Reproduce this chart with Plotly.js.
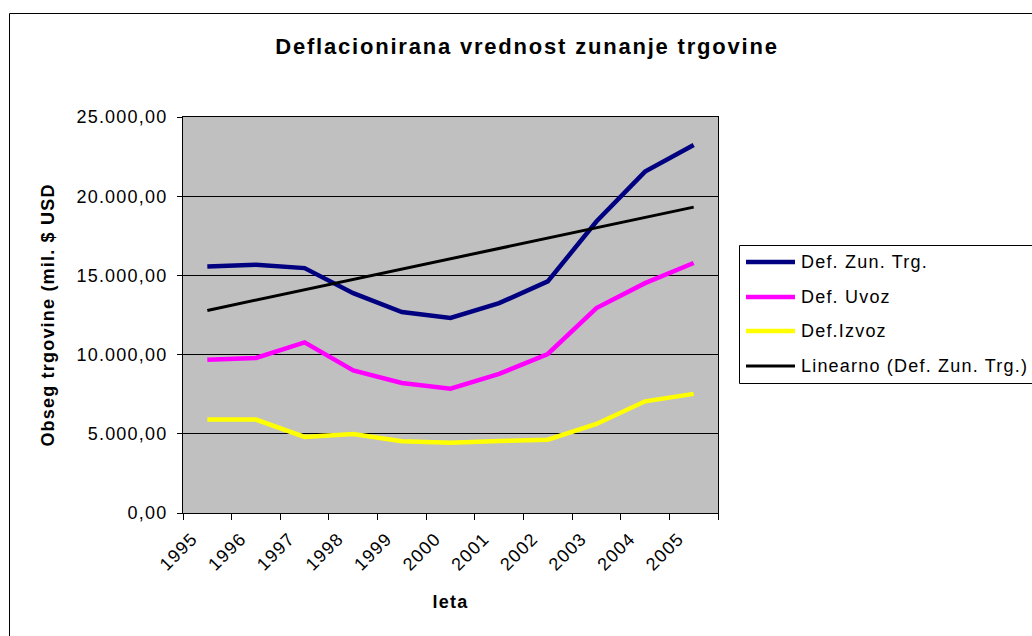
<!DOCTYPE html>
<html>
<head>
<meta charset="utf-8">
<script src="https://cdn.plot.ly/plotly-3.0.1.min.js"></script>
<style>
  html, body { margin: 0; padding: 0; background: #fff; }
  #chart { width: 1032px; height: 636px; }
  .main-svg text { letter-spacing: 1.2px; }
  .main-svg .gtitle { letter-spacing: 1.8px; }
</style>
</head>
<body>
<div id="chart"></div>
<script>
// ---- data ----
const years = ['1995','1996','1997','1998','1999','2000','2001','2002','2003','2004','2005'];
const defZunTrg = [15560, 15670, 15460, 13880, 12690, 12310, 13250, 14620, 18400, 21550, 23230];
const defUvoz   = [9680, 9790, 10770, 9000, 8210, 7850, 8780, 10040, 12940, 14510, 15780];
const defIzvoz  = [5900, 5900, 4800, 4990, 4530, 4430, 4550, 4630, 5620, 7050, 7520];
const trendYears  = ['1995', '2005'];
const trendValues = [12790, 19310];
const seriesNames = ['Def. Zun. Trg.', 'Def. Uvoz', 'Def.Izvoz', 'Linearno (Def. Zun. Trg.)'];
const seriesColors = ['#000080', '#FF00FF', '#FFFF00', '#000000'];

const FONT = 'Arial, "Liberation Sans", sans-serif';

// plot area in pixels (from the reference)
const W = 1032, H = 636;
const PL = 183, PR = 718, PT = 117, PB = 513;
const pw = PR - PL, ph = PB - PT;
const px = v => (v - PL) / pw;
const py = v => (PB - v) / ph;

const traces = [
  {x: years, y: defZunTrg, name: seriesNames[0],
   mode: 'lines', line: {color: seriesColors[0], width: 4.5}},
  {x: years, y: defUvoz, name: seriesNames[1],
   mode: 'lines', line: {color: seriesColors[1], width: 4.5}},
  {x: years, y: defIzvoz, name: seriesNames[2],
   mode: 'lines', line: {color: seriesColors[2], width: 4.5}},
  {x: trendYears, y: trendValues, name: seriesNames[3],
   mode: 'lines', line: {color: seriesColors[3], width: 3}}
];

// legend box drawn as shapes + annotations (Excel-style, runs past the right edge)
const legX0 = 739, legX1 = 1045, legY0 = 245, legY1 = 383;
const legRowY = [262, 297, 331, 366];
const legWidths = [4.5, 4.5, 4.5, 3];

const shapes = [
  {type: 'rect', xref: 'paper', yref: 'paper',
   x0: px(9.5), x1: px(1045), y0: py(650), y1: py(13.5),
   line: {color: '#000', width: 1}, fillcolor: 'rgba(0,0,0,0)', layer: 'below'},
  {type: 'rect', xref: 'paper', yref: 'paper',
   x0: px(legX0 + 0.5), x1: px(legX1), y0: py(legY1 + 0.5), y1: py(legY0 + 0.5),
   line: {color: '#000', width: 1}, fillcolor: '#ffffff', layer: 'above'}
];
const annotations = [];
seriesNames.forEach((nm, i) => {
  shapes.push({type: 'line', xref: 'paper', yref: 'paper',
    x0: px(746), x1: px(795), y0: py(legRowY[i]), y1: py(legRowY[i]),
    line: {color: seriesColors[i], width: legWidths[i]}, layer: 'above'});
  annotations.push({xref: 'paper', yref: 'paper', x: px(799), y: py(legRowY[i]),
    xanchor: 'left', yanchor: 'middle', align: 'left', showarrow: false, text: nm,
    font: {family: FONT, size: 18, color: '#000'}});
});

const layout = {
  width: W, height: H,
  margin: {l: PL, r: W - PR, t: PT, b: H - PB, pad: 0},
  paper_bgcolor: '#ffffff',
  plot_bgcolor: '#C0C0C0',
  separators: ',.',
  font: {family: FONT, size: 18, color: '#000'},
  title: {
    text: '<b>Deflacionirana vrednost zunanje trgovine</b>',
    font: {family: FONT, size: 22, color: '#000'},
    xref: 'container', yref: 'container',
    x: 527 / W, y: 1 - 46 / H, xanchor: 'center', yanchor: 'middle'
  },
  xaxis: {
    type: 'category',
    range: [-0.5, 10.5],
    tickson: 'boundaries',
    ticks: 'outside', ticklen: 6, tickcolor: '#000', tickwidth: 1,
    tickangle: -45,
    ticklabelstandoff: 7, ticklabelshift: -15,
    tickfont: {family: FONT, size: 18, color: '#000'},
    showgrid: false, zeroline: false,
    showline: true, linecolor: '#000', linewidth: 1, mirror: true,
    title: {text: '<b>leta</b>', font: {family: FONT, size: 18, color: '#000'}, standoff: 25}
  },
  yaxis: {
    range: [0, 25000],
    tick0: 0, dtick: 5000,
    tickformat: ',.2f',
    ticks: 'outside', ticklen: 5, tickcolor: '#000', tickwidth: 1,
    ticklabelstandoff: 6,
    tickfont: {family: FONT, size: 18, color: '#000'},
    showgrid: true, gridcolor: '#000', gridwidth: 1,
    zeroline: false,
    showline: true, linecolor: '#000', linewidth: 1, mirror: true,
    title: {text: '<b>Obseg trgovine (mil. $ USD</b>', font: {family: FONT, size: 18, color: '#000'}, standoff: 28}
  },
  showlegend: false,
  shapes: shapes,
  annotations: annotations
};

Plotly.newPlot('chart', traces, layout, {staticPlot: true, displayModeBar: false});
</script>
</body>
</html>
